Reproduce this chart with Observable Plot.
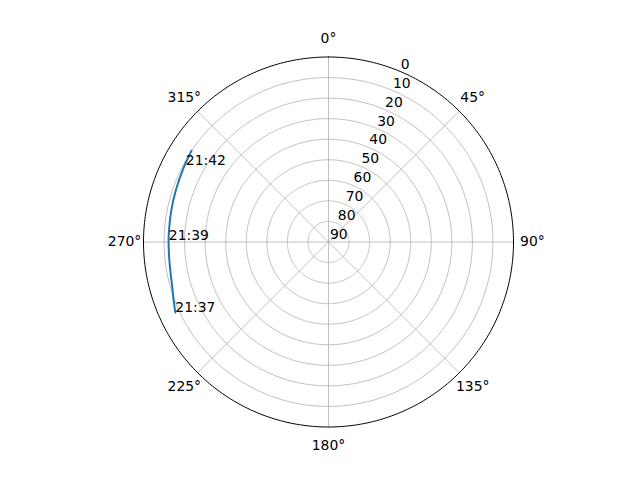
<!DOCTYPE html>
<html><head><meta charset="utf-8">
<script src="https://cdn.jsdelivr.net/npm/d3@7"></script>
<script src="https://cdn.jsdelivr.net/npm/@observablehq/plot@0.6"></script>
<style>body{margin:0;background:#fff;}svg{display:block;}</style>
</head><body><div id="chart"></div>
<script>
// Satellite pass: azimuth (deg, clockwise from north) and elevation (deg)
const trackAz = [245.3, 246.6, 250.0, 252.7, 258.0, 264.0, 270.0, 274.7, 281.3, 288.6, 296.4, 300.0, 303.7];
const trackEl = [8.0, 8.5, 9.7, 10.6, 11.6, 12.1, 12.2, 12.2, 12.0, 11.6, 10.9, 10.5, 9.9];
const timeLabels = ["21:37", "21:39", "21:42"];
const timeAz = [245.3, 270.8, 298.4];
const timeEl = [8.0, 12.3, 11.1];
const angleTicks = [0, 45, 90, 135, 180, 225, 270, 315];
const radialTicks = [0, 10, 20, 30, 40, 50, 60, 70, 80, 90];

const rad = d => d * Math.PI / 180;
const px = (az, el) => (90 - el) * Math.sin(rad(az));
const py = (az, el) => (90 - el) * Math.cos(rad(az));

const track = trackAz.map((a, i) => ({x: px(a, trackEl[i]), y: py(a, trackEl[i])}));
const times = timeLabels.map((t, i) => ({t, x: px(timeAz[i], timeEl[i]), y: py(timeAz[i], timeEl[i])}));
const circlePts = el => d3.range(0, 361, 1).map(a => ({el, x: px(a, el), y: py(a, el)}));
const gridRings = radialTicks.filter(e => e > 0 && e < 90).flatMap(circlePts);
const spoke = angleTicks.flatMap(a => [{a, x: 0, y: 0}, {a, x: px(a, 0), y: py(a, 0)}]);
const angleLbl = angleTicks.map(a => ({t: a + "°", x: px(a, -9.2), y: py(a, -9.2)}));
const radialLbl = radialTicks.map(e => ({t: String(e), x: px(22.5, e), y: py(22.5, e)}));

const font = "DejaVu Sans, sans-serif";
const chart = Plot.plot({
  width: 640, height: 480,
  marginLeft: 143, marginRight: 127, marginTop: 56.5, marginBottom: 53.5,
  x: {domain: [-90, 90], axis: null},
  y: {domain: [-90, 90], axis: null},
  style: {fontFamily: font, fontSize: "13.9px", background: "#fff", overflow: "visible"},
  marks: [
    Plot.line(gridRings, {x: "x", y: "y", z: "el", stroke: "#b0b0b0", strokeWidth: 0.8}),
    Plot.line(spoke, {x: "x", y: "y", z: "a", stroke: "#b0b0b0", strokeWidth: 0.8}),
    Plot.line(circlePts(0), {x: "x", y: "y", stroke: "#000", strokeWidth: 1}),
    Plot.line(track, {x: "x", y: "y", stroke: "#1f77b4", strokeWidth: 2, curve: "catmull-rom"}),
    Plot.text(times, {x: "x", y: "y", text: "t", textAnchor: "start", lineAnchor: "bottom", fill: "#000", fontSize: 13.9}),
    Plot.text(angleLbl, {x: "x", y: "y", text: "t", textAnchor: "middle", lineAnchor: "middle", fill: "#000", fontSize: 13.9}),
    Plot.text(radialLbl, {x: "x", y: "y", text: "t", textAnchor: "start", lineAnchor: "middle", dx: 1.5, dy: -7, fill: "#000", fontSize: 13.9})
  ]
});
document.getElementById("chart").appendChild(chart);
</script>
</body></html>
